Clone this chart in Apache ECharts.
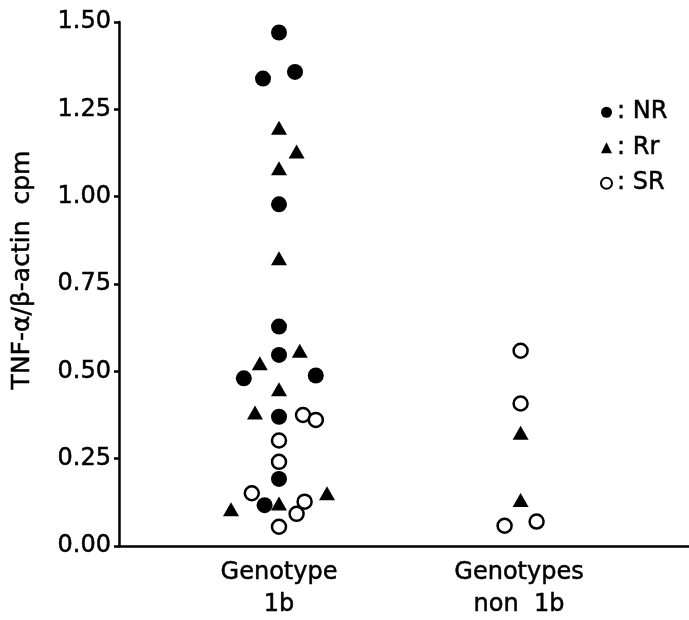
<!DOCTYPE html>
<html>
<head>
<meta charset="utf-8">
<script src="https://cdn.jsdelivr.net/npm/echarts@6/dist/echarts.min.js"></script>
<style>
html,body{margin:0;padding:0;background:#fff;}
#chart{width:689px;height:620px;}
</style>
</head>
<body>
<div id="chart"></div>
<script>
// Category positions on the x axis and their labels
const groupPositions = [1, 2.5];
const groupLabels = ['Genotype\n1b', 'Genotypes\nnon  1b'];
const yTicks = [0, 0.25, 0.5, 0.75, 1.0, 1.25, 1.5];

// [x (group position with jitter), TNF-alpha/beta-actin cpm]
const nrPoints = [
  [1.00, 1.470], [0.90, 1.338], [1.10, 1.357], [1.00, 0.978],
  [1.00, 0.628], [1.00, 0.547], [0.78, 0.480], [1.23, 0.488],
  [1.00, 0.370], [1.00, 0.192], [0.91, 0.117]
];
const rrPoints = [
  [1.00, 1.197], [1.11, 1.129], [1.00, 1.081], [1.00, 0.824],
  [1.13, 0.559], [0.88, 0.523], [1.00, 0.449], [0.85, 0.382],
  [1.00, 0.122], [0.70, 0.105], [1.30, 0.151],
  [2.51, 0.324], [2.51, 0.132]
];
const srPoints = [
  [1.15, 0.375], [1.23, 0.361], [1.00, 0.302], [1.00, 0.241],
  [0.83, 0.151], [1.16, 0.127], [1.11, 0.092], [1.00, 0.055],
  [2.51, 0.559], [2.51, 0.408], [2.41, 0.058], [2.61, 0.070]
];

const FONT = 'DejaVu Sans';
const heavy = { textBorderColor: '#000', textBorderWidth: 0.5 };
const chart = echarts.init(document.getElementById('chart'));
chart.setOption({
  animation: false,
  backgroundColor: '#fff',
  grid: { left: 119, right: 0, top: 22, bottom: 74, containLabel: false, outerBoundsMode: 'none' },
  legend: {
    orient: 'vertical',
    left: 595,
    top: 95,
    itemWidth: 11,
    itemHeight: 11,
    itemGap: 11,
    textStyle: Object.assign({ fontFamily: FONT, fontSize: 24, color: '#000' }, heavy),
    formatter: n => ': ' + n,
    data: [
      { name: 'NR', icon: 'circle' },
      { name: 'Rr', icon: 'triangle' },
      { name: 'SR', icon: 'circle' }
    ]
  },
  xAxis: {
    type: 'value',
    min: 0,
    max: 3.5625,
    splitLine: { show: false },
    axisLine: { show: true, onZero: false, lineStyle: { color: '#000', width: 2.5 } },
    axisTick: { show: false },
    axisLabel: Object.assign({
      customValues: groupPositions,
      formatter: v => groupLabels[groupPositions.indexOf(v)],
      fontFamily: FONT, fontSize: 24, color: '#000',
      lineHeight: 32, margin: 11
    }, heavy)
  },
  yAxis: {
    type: 'value',
    min: 0,
    max: 1.5,
    interval: 0.25,
    name: 'TNF-α/β-actin  cpm',
    nameLocation: 'middle',
    nameGap: 84,
    nameTextStyle: Object.assign({ fontFamily: FONT, fontSize: 25, color: '#000', padding: [0, 0, 0, 28] }, heavy),
    splitLine: { show: false },
    axisLine: { show: true, lineStyle: { color: '#000', width: 2.5 } },
    axisTick: { show: true, length: 5, lineStyle: { color: '#000', width: 2.5 } },
    axisLabel: Object.assign({
      formatter: v => v.toFixed(2),
      fontFamily: FONT, fontSize: 24, color: '#000', margin: 8
    }, heavy)
  },
  series: [
    {
      name: 'NR', type: 'scatter', data: nrPoints, symbol: 'circle', symbolSize: 16,
      itemStyle: { color: '#000', opacity: 1 }
    },
    {
      name: 'Rr', type: 'scatter', data: rrPoints, symbol: 'triangle', symbolSize: [16, 14],
      itemStyle: { color: '#000', opacity: 1 }
    },
    {
      name: 'SR', type: 'scatter', data: srPoints, symbol: 'circle', symbolSize: 14,
      itemStyle: { color: '#fff', borderColor: '#000', borderWidth: 2.5, opacity: 1 }
    }
  ]
});
</script>
</body>
</html>
